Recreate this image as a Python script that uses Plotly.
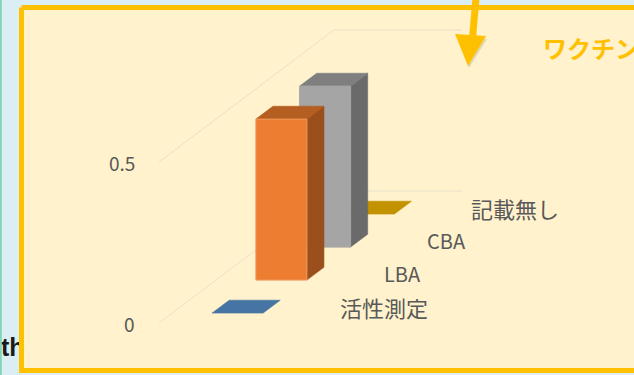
import plotly.graph_objects as go

# ---- data ----
categories = ["活性測定", "LBA", "CBA", "記載無し"]
values = [0, 0.5, 0.5, 0]
tick_values = [0, 0.5]
tick_labels = ["0", "0.5"]

# ---- styles ----
face_colors = [
    {"front": "#4472C4", "top": "#4674A3", "side": "#35598A"},
    {"front": "#ED7D31", "top": "#B45E22", "side": "#9A4F1D"},
    {"front": "#A5A5A5", "top": "#7F7F7F", "side": "#6A6A6A"},
    {"front": "#FFC000", "top": "#C39200", "side": "#A37A00"},
]
TXT = "#595959"
FONT = "Noto Sans CJK JP"

# ---- oblique projection of the 3D chart space ----
X0, Y0 = 159, 323      # front-left corner of floor (pixels)
SCALE = 322            # pixels per value unit
DX, DY = 43.75, 33     # depth step per series slot
WIDTH = 128            # chart width along category axis


def proj(xw, z, v):
    return X0 + xw + z * DX, Y0 - v * SCALE - z * DY


fig = go.Figure()


def poly(pts, color, lw=0.6, lc=None):
    xs = [p[0] for p in pts] + [pts[0][0]]
    ys = [p[1] for p in pts] + [pts[0][1]]
    fig.add_trace(go.Scatter(x=xs, y=ys, mode="lines", fill="toself",
                             fillcolor=color, line=dict(color=lc or color, width=lw),
                             hoverinfo="skip", showlegend=False))


# text partly hidden behind slide box
fig.add_trace(go.Scatter(x=[1], y=[350], mode="text", text=["<b>th</b>"],
                         textposition="middle right",
                         textfont=dict(family="Liberation Sans", size=25, color="#1a1a1a"),
                         hoverinfo="skip", showlegend=False))

# slide box
poly([(21.5, 7.5), (700, 7.5), (700, 370.5), (21.5, 370.5)], "#FFF2CC", lw=5, lc="#FFC000")

# gridlines (side wall + back wall)
nz = len(categories)
for v in tick_values:
    pts = [proj(0, 0, v), proj(0, nz, v), proj(WIDTH, nz, v)]
    fig.add_trace(go.Scatter(x=[p[0] for p in pts], y=[p[1] for p in pts], mode="lines",
                             line=dict(color="#E9E0CC", width=1),
                             hoverinfo="skip", showlegend=False))

# bars, back to front
bx0, bx1 = 40, 91
for i in reversed(range(nz)):
    v = values[i]
    c = face_colors[i]
    z0, z1 = i + 0.3, i + 0.69
    side = [proj(bx1, z0, 0), proj(bx1, z1, 0), proj(bx1, z1, v), proj(bx1, z0, v)]
    top = [proj(bx0, z0, v), proj(bx1, z0, v), proj(bx1, z1, v), proj(bx0, z1, v)]
    front = [proj(bx0, z0, 0), proj(bx1, z0, 0), proj(bx1, z0, v), proj(bx0, z0, v)]
    if v > 0:
        poly(side, c["side"])
    poly(top, c["top"])
    if v > 0:
        poly(front, c["front"], lw=1, lc="#F19A5E" if i == 1 else c["front"])

annotations = []
# value axis labels
for v, t in zip(tick_values, tick_labels):
    x, y = proj(0, 0, v)
    annotations.append(dict(x=x - 22, y=y, text=t, xanchor="right", yanchor="middle",
                            showarrow=False, font=dict(family=FONT, size=19, color=TXT)))
# depth axis labels
for i, cat in enumerate(categories):
    x, y = proj(WIDTH, i + 0.5, 0)
    size = 20 if cat.isascii() else 22
    annotations.append(dict(x=x + 29, y=y, text=cat, xanchor="left", yanchor="middle",
                            showarrow=False, font=dict(family=FONT, size=size, color=TXT)))
# title fragment (cut by slide edge, as in the source slide)
annotations.append(dict(x=541, y=47, text="<b>ワクチン</b>", xanchor="left", yanchor="middle",
                        showarrow=False, font=dict(family=FONT, size=24, color="#FFC000")))

shapes = [
    # left edge line
    dict(type="line", x0=0.8, x1=0.8, y0=0, y1=375, line=dict(color="#7FD6B8", width=2)),
    # arrow shadow
    dict(type="path", path="M 457 37 L 487 39 L 469 68 Z",
         fillcolor="rgba(120,120,120,0.22)", line=dict(width=0)),
    # arrow shaft
    dict(type="path", path="M 472.5 -2 L 479.5 -2 L 476 38 L 469 38 Z",
         fillcolor="#FFC000", line=dict(width=0)),
    # arrow head
    dict(type="path", path="M 455 34 L 486 36 L 468 66 Z",
         fillcolor="#FFC000", line=dict(width=0)),
]

fig.update_layout(
    width=634, height=375,
    margin=dict(l=0, r=0, t=0, b=0),
    paper_bgcolor="#DAEEF3", plot_bgcolor="rgba(0,0,0,0)",
    xaxis=dict(range=[0, 634], visible=False, fixedrange=True),
    yaxis=dict(range=[375, 0], visible=False, fixedrange=True),
    annotations=annotations,
    shapes=shapes,
    showlegend=False,
)

fig.write_html("out.html")
